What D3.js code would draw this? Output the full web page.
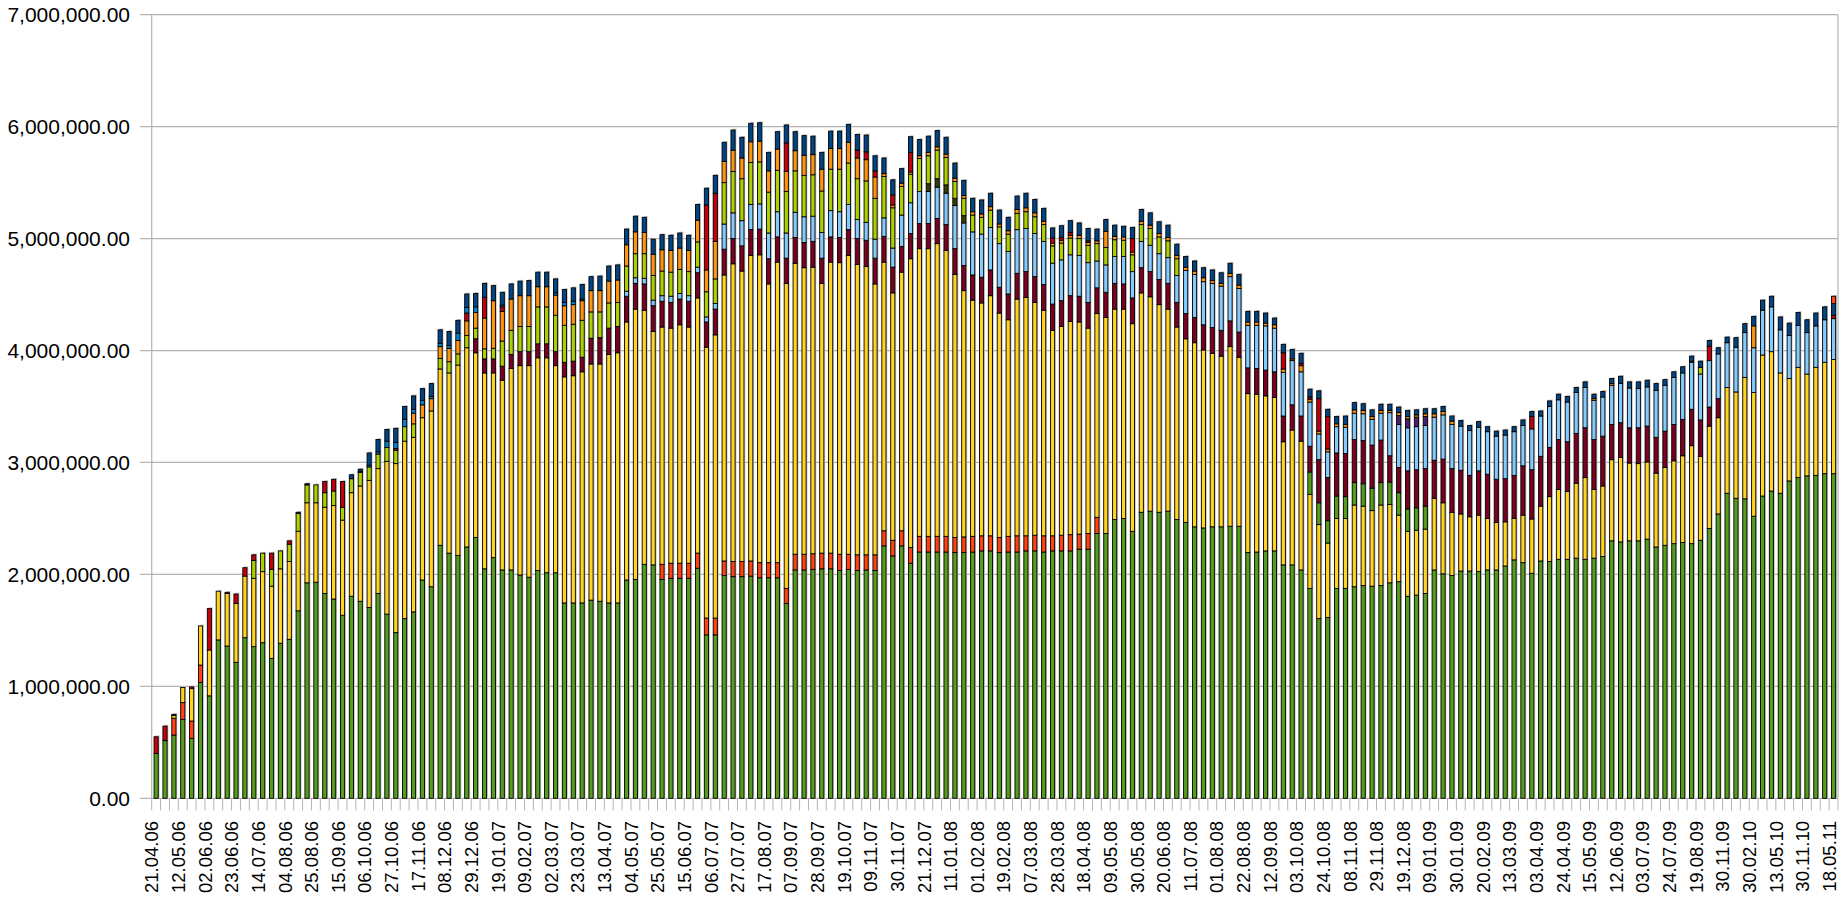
<!DOCTYPE html>
<html>
<head>
<meta charset="utf-8">
<script src="https://cdn.jsdelivr.net/npm/d3@7"></script>
<style>
  body { margin: 0; background: #fff; }
  text { font-family: "Liberation Sans", Arial, sans-serif; fill: #000; }
</style>
</head>
<body>
<script>
// values are in thousands, one entry per bar (190 bars)
var tickLabels = ["21.04.06","12.05.06","02.06.06","23.06.06","14.07.06","04.08.06","25.08.06","15.09.06",
  "06.10.06","27.10.06","17.11.06","08.12.06","29.12.06","19.01.07","09.02.07","02.03.07","23.03.07",
  "13.04.07","04.05.07","25.05.07","15.06.07","06.07.07","27.07.07","17.08.07","07.09.07","28.09.07",
  "19.10.07","09.11.07","30.11.07","21.12.07","11.01.08","01.02.08","19.02.08","07.03.08","28.03.08",
  "18.04.08","09.05.08","30.05.08","20.06.08","11.07.08","01.08.08","22.08.08","12.09.08","03.10.08",
  "24.10.08","08.11.08","29.11.08","19.12.08","09.01.09","30.01.09","20.02.09","13.03.09","03.04.09",
  "24.04.09","15.05.09","12.06.09","03.07.09","24.07.09","19.08.09","30.11.09","30.02.10","13.05.10",
  "30.11.10","18.05.11"];

var green = [
  400,515,565,705,535,1035,915,1415,1360,1215,
  1435,1355,1390,1250,1385,1420,1675,1925,1930,1830,
  1780,1635,1805,1760,1705,1830,1645,1480,1605,1665,
  1950,1890,2260,2190,2170,2245,2330,2050,2150,2040,
  2040,1995,1975,2035,2015,2015,1745,1745,1745,1770,
  1760,1745,1745,1950,1955,2090,2085,1955,1965,1965,
  1965,2055,1460,1460,1990,1980,1980,1985,1970,1970,
  1970,1740,2040,2040,2045,2050,2050,2035,2045,2035,
  2040,2035,2255,2165,2255,2100,2200,2200,2200,2200,
  2195,2195,2200,2210,2210,2195,2200,2200,2210,2210,
  2200,2210,2210,2210,2225,2225,2365,2365,2490,2500,
  2385,2555,2565,2555,2565,2490,2465,2425,2415,2425,
  2425,2430,2430,2195,2200,2210,2210,2085,2085,2040,
  1875,1605,1615,1875,1875,1890,1900,1895,1900,1925,
  1935,1805,1815,1830,2040,2005,1990,2030,2030,2025,
  2040,2040,2075,2130,2105,2010,2120,2115,2135,2135,
  2145,2135,2145,2160,2300,2290,2300,2300,2315,2245,
  2260,2275,2285,2275,2305,2410,2540,2725,2680,2675,
  2520,2700,2745,2725,2835,2865,2880,2885,2900,2900];

var orangeRed = [
  0,0,150,150,155,155,0,0,0,0,
  0,0,0,0,0,0,0,0,0,0,
  0,0,0,0,0,0,0,0,0,0,
  0,0,0,0,0,0,0,0,0,0,
  0,0,0,0,0,0,0,0,0,0,
  0,0,0,0,0,0,0,135,135,135,
  135,135,150,150,130,135,135,135,135,135,
  135,135,140,140,140,140,140,145,135,140,
  135,140,135,140,135,140,140,140,140,140,
  135,140,140,135,135,135,140,145,135,140,
  145,135,140,145,135,140,145,0,0,0,
  0,0,0,0,0,0,0,0,0,0,
  0,0,0,0,0,0,0,0,0,0,
  0,0,0,0,0,0,0,0,0,0,
  0,0,0,0,0,0,0,0,0,0,
  0,0,0,0,0,0,0,0,0,0,
  0,0,0,0,0,0,0,0,0,0,
  0,0,0,0,0,0,0,0,0,0,
  0,0,0,0,0,0,0,0,0,0];

var yellow = [
  0,0,25,135,290,350,410,435,470,525,
  550,610,635,645,665,695,710,715,710,770,
  835,850,925,1030,1135,1115,1365,1510,1585,1560,
  1450,1570,1575,1610,1700,1780,1650,1750,1650,1695,
  1800,1870,1890,1900,1920,1850,2020,2030,2065,2110,
  2120,2220,2235,2305,2415,2270,2085,2120,2100,2130,
  2110,2280,2420,2530,2555,2660,2595,2730,2750,2490,
  2685,2725,2600,2560,2560,2410,2600,2605,2670,2595,
  2575,2420,2400,2210,2310,2580,2570,2570,2615,2555,
  2350,2200,2110,2080,2145,2005,1935,2115,2130,2080,
  2015,1835,1865,1905,1895,1835,1820,1930,1880,1870,
  1855,1960,1915,1855,1805,1720,1640,1645,1590,1550,
  1525,1605,1510,1420,1410,1385,1370,1100,1205,1150,
  840,840,665,625,625,730,710,675,720,700,
  595,580,580,575,640,635,565,510,485,505,
  460,425,395,370,425,485,490,580,625,605,
  670,730,615,630,725,755,695,690,690,660,
  695,740,775,875,750,915,860,945,950,1085,
  1105,1260,1245,1075,915,985,910,965,995,1020];

// second green band that sits on the yellow in late 2008
var green2 = {130:200,131:195,132:200,133:200,134:195,135:200,136:200,137:200,138:200,
  139:200,140:200,141:200,142:200,143:205};

var maroon = [
  0,0,0,0,0,0,0,0,0,0,
  0,0,0,0,0,0,0,0,0,0,
  0,0,0,0,0,0,0,0,0,0,
  0,0,0,0,0,0,125,125,125,125,
  125,125,125,125,125,125,130,130,130,230,
  235,235,235,230,230,235,230,230,230,230,
  230,225,225,230,230,225,225,230,230,225,
  225,225,230,225,230,225,225,225,230,230,
  235,230,230,230,230,225,225,225,225,230,
  230,225,225,230,230,230,230,230,230,230,
  230,235,230,230,230,230,230,225,230,225,
  230,225,225,225,230,220,225,225,225,230,
  230,230,225,230,230,230,230,230,225,225,
  230,385,385,385,385,385,385,385,380,235,
  225,340,340,335,340,390,390,390,370,395,
  395,385,385,385,440,440,445,440,445,445,
  445,445,445,445,315,310,315,320,320,320,
  325,325,325,325,325,170,170,0,0,0,
  0,0,0,0,0,0,0,0,0,0];

var lightBlue = [
  0,0,0,0,0,0,0,0,0,0,
  0,0,0,0,0,0,0,0,0,0,
  0,0,0,0,0,0,0,0,0,0,
  0,0,0,0,0,0,0,0,0,0,
  0,0,0,0,0,0,0,0,0,0,
  0,0,0,45,50,50,50,50,55,50,
  50,50,45,50,225,230,225,225,225,230,
  225,225,225,230,225,230,235,230,225,170,
  160,170,165,170,280,275,285,285,280,280,
  385,380,385,385,380,390,380,390,385,385,
  385,365,365,365,365,355,240,245,240,245,
  235,235,235,230,230,240,385,385,385,395,
  395,395,390,380,385,395,390,390,395,395,
  395,230,230,235,235,235,240,230,240,385,
  385,385,385,385,385,395,395,395,400,390,
  380,385,390,390,360,365,360,365,355,355,
  365,360,350,350,350,350,355,350,350,420,
  410,420,415,420,410,415,400,400,400,400,
  400,400,400,385,385,375,370,370,380,365];

var olive = {87:70, 88:75, 89:75, 90:65, 91:65};

var lime = [
  0,0,0,0,0,0,0,0,0,0,
  0,160,165,150,160,155,160,160,160,130,
  130,115,125,120,120,130,125,120,130,120,
  0,0,95,100,100,110,95,90,95,225,
  215,225,225,330,330,325,330,330,330,235,
  230,225,215,225,215,220,220,220,215,215,
  215,225,225,220,370,370,375,375,375,365,
  370,370,370,370,370,370,370,380,370,365,
  370,365,370,360,255,255,295,250,255,245,
  150,155,150,150,155,150,155,145,150,150,
  150,155,150,150,150,155,155,155,150,145,
  150,150,150,150,150,150,0,0,0,0,
  0,0,0,0,0,0,0,0,0,0,
  0,0,0,0,0,0,0,0,0,0,
  0,0,0,0,0,0,0,0,0,0,
  0,0,0,0,0,0,0,0,0,0,
  0,0,0,0,0,0,0,0,0,0,
  0,0,0,0,60,0,0,0,0,0,
  0,0,0,0,0,0,0,0,0,0];

var purple = {140:80, 141:80, 142:85, 143:80};

var orange = [
  0,0,0,0,0,0,0,0,0,0,
  0,0,0,0,0,0,0,0,0,0,
  0,0,0,0,0,0,0,0,0,95,
  115,110,105,120,120,130,140,275,425,265,
  280,275,275,180,180,180,175,175,175,190,
  190,195,200,190,195,190,190,190,195,190,
  190,195,195,335,190,190,185,185,185,190,
  190,180,180,180,180,195,185,185,185,185,
  190,190,25,25,30,20,25,30,30,30,
  30,25,30,30,30,25,30,35,35,35,
  30,25,25,25,30,25,25,145,30,30,
  25,30,30,30,30,30,30,30,35,25,
  25,30,30,30,30,25,30,30,15,55,
  25,25,25,25,25,30,30,25,25,20,
  25,20,20,25,30,30,30,0,0,0,
  0,0,0,0,0,0,0,0,0,0,
  0,0,15,0,15,0,0,0,0,0,
  0,0,0,10,0,0,0,0,0,0,
  195,0,0,0,0,0,0,0,0,0];

var red = {0:150,1:130,4:15,6:370,8:10,9:85,10:75,11:50,13:145,15:30,19:100,20:105,21:230,
  23:10,27:15,35:70,37:185,39:40,62:580,63:430,71:255,79:70,80:70,81:55,83:90,85:175,
  101:45,102:25,103:25,105:15,110:120,127:145,129:20,130:20,131:290,132:290,155:110,
  175:130,189:30};

var midBlue = {24:15,25:20,26:55,27:55,28:65,29:35,30:40,31:20,32:30,33:25,34:65,35:50,
  36:50,39:15,45:20,46:30,47:30,48:15};

var darkBlue = [
  0,0,10,0,0,0,0,0,0,0,
  0,0,0,0,0,0,10,10,0,0,
  0,0,35,20,110,110,105,125,115,120,
  105,115,120,125,115,120,120,125,135,115,
  135,130,135,130,130,125,115,120,130,125,
  130,135,135,140,140,135,135,135,135,135,
  135,140,150,160,170,180,185,165,165,165,
  155,160,170,175,165,150,155,155,160,140,
  150,135,140,135,130,140,145,145,145,150,
  135,135,120,125,120,125,120,120,130,120,
  115,90,105,105,110,110,105,105,100,95,
  100,105,110,105,110,100,95,90,90,95,
  95,90,95,95,95,90,60,75,85,90,
  70,70,65,65,75,65,60,60,55,55,
  50,55,45,45,45,45,45,50,45,50,
  45,45,45,45,50,45,45,50,50,50,
  45,50,40,50,45,65,55,60,60,60,
  50,50,55,45,55,50,55,50,85,80,
  85,90,95,115,110,115,115,115,115,105];

var topRed = {189:65};

// stacking order, bottom to top
var series = [
  {key: "green", data: green, color: "#579d1c"},
  {key: "orangeRed", data: orangeRed, color: "#ff420e"},
  {key: "yellow", data: yellow, color: "#ffd320"},
  {key: "green2", data: green2, color: "#579d1c"},
  {key: "maroon", data: maroon, color: "#7e0021"},
  {key: "lightBlue", data: lightBlue, color: "#83caff"},
  {key: "olive", data: olive, color: "#314004"},
  {key: "lime", data: lime, color: "#aecf00"},
  {key: "purple", data: purple, color: "#4b1f6f"},
  {key: "orange", data: orange, color: "#ff950e"},
  {key: "red", data: red, color: "#c5000b"},
  {key: "midBlue", data: midBlue, color: "#0084d1"},
  {key: "darkBlue", data: darkBlue, color: "#004586"},
  {key: "topRed", data: topRed, color: "#ff420e"}
];

var width = 1842, height = 898;
var plot = {left: 151.7, right: 1838, top: 14.7, bottom: 798.3};

// one row per bar for d3.stack
var rows = green.map(function(v, i) {
  var row = {i: i};
  series.forEach(function(s) { row[s.key] = s.data[i] || 0; });
  return row;
});

var stacked = d3.stack().keys(series.map(function(s) { return s.key; }))(rows);

var x = d3.scaleBand()
    .domain(rows.map(function(d) { return d.i; }))
    .range([plot.left, plot.right])
    .paddingInner(0.53)
    .paddingOuter(0.265);

var y = d3.scaleLinear()
    .domain([0, 7000])
    .range([plot.bottom, plot.top]);

var svg = d3.select("body").append("svg")
    .attr("width", width)
    .attr("height", height)
    .style("display", "block");

// horizontal grid lines with the little ticks left of the axis
var yTicks = d3.range(0, 7001, 1000);
svg.append("g").selectAll("line")
    .data(yTicks)
    .enter().append("line")
    .attr("x1", 140).attr("x2", plot.right)
    .attr("y1", function(d) { return y(d); })
    .attr("y2", function(d) { return y(d); })
    .attr("stroke", "#b3b3b3")
    .attr("stroke-width", 1.2);

svg.append("g").selectAll("text")
    .data(yTicks)
    .enter().append("text")
    .attr("x", 130)
    .attr("y", function(d) { return y(d); })
    .attr("dy", "0.35em")
    .attr("text-anchor", "end")
    .style("font-size", "21px")
    .text(function(d) { return d3.format(",.2f")(d * 1000); });

// axis frame
svg.append("line")
    .attr("x1", plot.left).attr("x2", plot.left)
    .attr("y1", plot.top).attr("y2", plot.bottom)
    .attr("stroke", "#b3b3b3").attr("stroke-width", 1.2);
svg.append("line")
    .attr("x1", plot.right).attr("x2", plot.right)
    .attr("y1", plot.top).attr("y2", plot.bottom)
    .attr("stroke", "#b3b3b3").attr("stroke-width", 1.2);

// category ticks under the axis
var step = x.step();
svg.append("g").selectAll("line")
    .data(d3.range(rows.length + 1))
    .enter().append("line")
    .attr("x1", function(k) { return plot.left + k * step; })
    .attr("x2", function(k) { return plot.left + k * step; })
    .attr("y1", plot.bottom)
    .attr("y2", plot.bottom + 12)
    .attr("stroke", "#b3b3b3")
    .attr("stroke-width", 1);

// soft shadow behind each bar
var last = stacked[stacked.length - 1];
svg.append("g").selectAll("rect")
    .data(last)
    .enter().append("rect")
    .attr("x", function(d) { return x(d.data.i) + 1.3; })
    .attr("y", function(d) { return y(d[1]) - 1.3; })
    .attr("width", x.bandwidth())
    .attr("height", function(d) { return y(0) - y(d[1]); })
    .attr("fill", "#c4c4c4");

// stacked bars
var layer = svg.append("g").selectAll("g")
    .data(stacked)
    .enter().append("g")
    .attr("fill", function(d, k) { return series[k].color; });

layer.selectAll("rect")
    .data(function(d) { return d.filter(function(p) { return p[1] > p[0]; }); })
    .enter().append("rect")
    .attr("x", function(d) { return x(d.data.i); })
    .attr("y", function(d) { return y(d[1]); })
    .attr("width", x.bandwidth())
    .attr("height", function(d) { return y(d[0]) - y(d[1]); })
    .attr("stroke", "#000")
    .attr("stroke-width", 0.9);

// date labels, every third bar
svg.append("g").selectAll("text")
    .data(tickLabels)
    .enter().append("text")
    .attr("transform", function(d, j) {
        var cx = x(j * 3) + x.bandwidth() / 2;
        return "translate(" + cx + "," + 821 + ") rotate(-90)";
    })
    .attr("dy", "0.12em")
    .attr("text-anchor", "end")
    .style("font-size", "18.5px")
    .text(function(d) { return d; });
</script>
</body>
</html>
